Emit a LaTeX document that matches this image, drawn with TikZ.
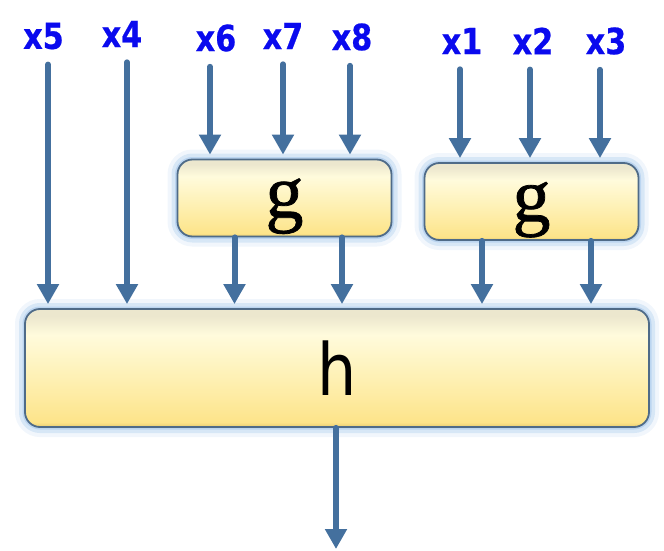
\documentclass[tikz,border=0pt]{standalone}
\usepackage{fontspec}
\usetikzlibrary{arrows.meta}
\newfontfamily\labfont[FakeStretch=0.84,FakeBold=0.6]{DejaVu Sans Bold}
\newfontfamily\hfont[FakeStretch=0.86]{DejaVu Sans}
\newfontfamily\gfont[FakeBold=1]{Liberation Serif}
\definecolor{arrcol}{HTML}{44709E}
\definecolor{labcol}{HTML}{0A0AEE}
\definecolor{bordcol}{HTML}{4F6B88}
\definecolor{glowcol}{HTML}{9EC3EA}
\definecolor{ydark}{HTML}{E6CB70}
\definecolor{ydeep}{HTML}{FDE48A}
\definecolor{ymid}{HTML}{FEF0B2}
\definecolor{ylight}{HTML}{FFFBDC}
\definecolor{ytopedge}{HTML}{ECE7CE}
\pgfdeclareverticalshading{boxshade}{100bp}{color(0bp)=(ydark); color(25bp)=(ydark); color(27bp)=(ydeep); color(45bp)=(ymid); color(64bp)=(ylight); color(72bp)=(ytopedge); color(75bp)=(ytopedge); color(100bp)=(ytopedge)}
\tikzset{
  lab/.style={font=\labfont\fontsize{36}{36}\selectfont, text=labcol, inner sep=0pt},
  arr/.style={draw=arrcol, line width=6pt, line cap=round, -{Triangle[width=21pt,length=20pt]}, shorten <=15pt, shorten >=4pt},
  outarr/.style={draw=arrcol, line width=6pt, line cap=round, -{Triangle[width=21pt,length=20pt]}, shorten >=4pt},
  fbox/.style={draw=bordcol, line width=1.8pt, rounded corners=15pt, shading=boxshade, inner sep=0pt,
    preaction={draw=glowcol, line width=20pt, opacity=0.15},
    preaction={draw=glowcol, line width=12pt, opacity=0.3},
    preaction={draw=glowcol, line width=5pt, opacity=0.5}},
  gbox/.style={fbox, minimum width=214pt, minimum height=77pt, font=\gfont\fontsize{76}{76}\selectfont, text depth=0pt},
  hbox/.style={fbox, minimum width=624pt, minimum height=118pt, font=\hfont\fontsize{72}{72}\selectfont}
}
\begin{document}
\begin{tikzpicture}[x=1pt,y=-1pt]
\useasboundingbox (0,0) rectangle (664,551);
% boxes
\node[gbox] (g1) at (284.5,198) {g};
\node[gbox] (g2) at (531.5,201.5) {g};
\node[hbox] (h) at (337,368) {h};
% labels
\node[lab] (l5) at (43.5,36) {x5};
\node[lab] (l4) at (122,34) {x4};
\node[lab] (l6) at (216,38) {x6};
\node[lab] (l7) at (283,36) {x7};
\node[lab] (l8) at (352,37) {x8};
\node[lab] (l1) at (462,41) {x1};
\node[lab] (l2) at (533,41) {x2};
\node[lab] (l3) at (606,41) {x3};
% inputs
\draw[arr] ([xshift=4.5pt]l5.south) -- ([xshift=4.5pt]l5.south |- h.north);
\draw[arr] ([xshift=5pt]l4.south) -- ([xshift=5pt]l4.south |- h.north);
\draw[arr] ([xshift=-6pt]l6.south) -- ([xshift=-6pt]l6.south |- g1.north);
\draw[arr] (l7.south) -- (l7.south |- g1.north);
\draw[arr] ([xshift=-2pt]l8.south) -- ([xshift=-2pt]l8.south |- g1.north);
\draw[arr] ([xshift=-2pt]l1.south) -- ([xshift=-2pt]l1.south |- g2.north);
\draw[arr] ([xshift=-3pt]l2.south) -- ([xshift=-3pt]l2.south |- g2.north);
\draw[arr] ([xshift=-6pt]l3.south) -- ([xshift=-6pt]l3.south |- g2.north);
% g outputs
\draw[outarr] ([xshift=-50pt]g1.south) -- ([xshift=-50pt]g1.south |- h.north);
\draw[outarr] ([xshift=57.5pt]g1.south) -- ([xshift=57.5pt]g1.south |- h.north);
\draw[outarr] ([xshift=-49.5pt]g2.south) -- ([xshift=-49.5pt]g2.south |- h.north);
\draw[outarr] ([xshift=59.5pt]g2.south) -- ([xshift=59.5pt]g2.south |- h.north);
% h output
\coordinate (out) at (336,549);
\draw[outarr, shorten >=0pt] ([xshift=-1pt]h.south) -- (out);
\end{tikzpicture}
\end{document}
